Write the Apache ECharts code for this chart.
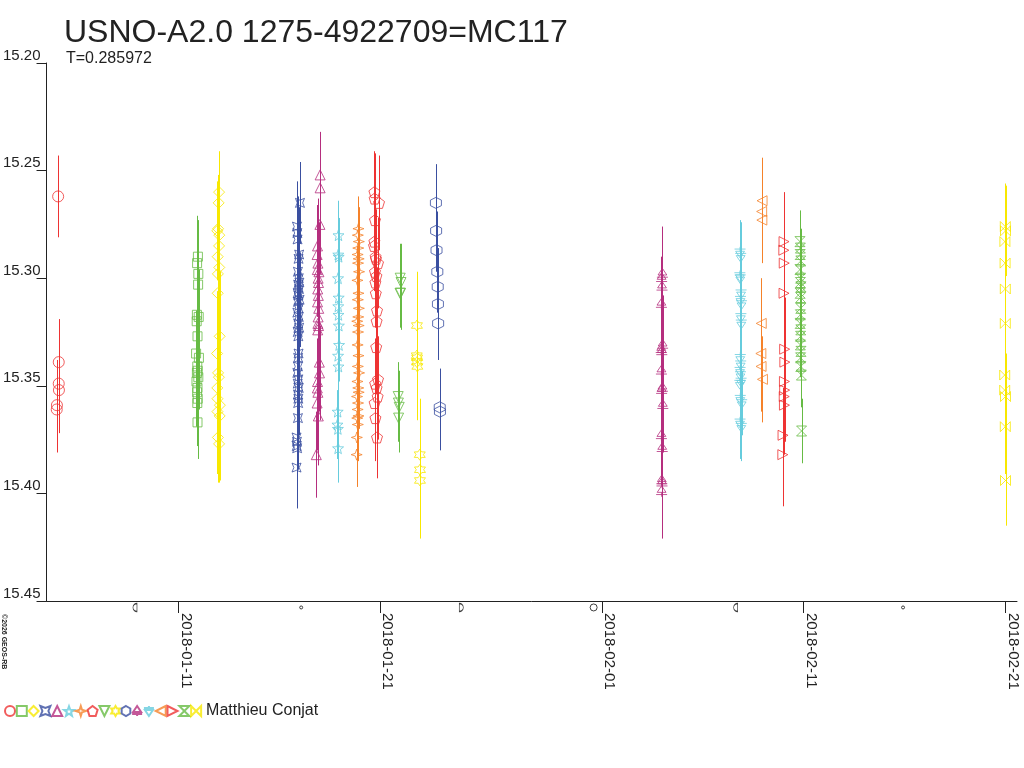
<!DOCTYPE html>
<html>
<head>
<meta charset="utf-8">
<script src="https://cdn.jsdelivr.net/npm/echarts@6/dist/echarts.min.js"></script>
<style>html,body{margin:0;padding:0;background:#fff}#c{width:1024px;height:768px}</style>
</head>
<body>
<div id="c"></div>
<script>
// ---- data: [day since 2018-01-01 00:00, magnitude, error] ----
const night01 = [[4.04,15.262,0.019],[4.07,15.339,0.020],[4.07,15.349,0.021],[4.08,15.352,0.020],[3.98,15.359,0.021],[3.97,15.361,0.020]];
const night02 = [[10.97,15.290,0.017],[10.93,15.293,0.022],[10.99,15.298,0.020],[10.98,15.303,0.024],[10.92,15.317,0.021],[10.91,15.320,0.025],[11.01,15.318,0.022],[10.95,15.327,0.023],[10.88,15.335,0.020],[11.02,15.337,0.024],[10.94,15.341,0.022],[10.96,15.343,0.021],[10.92,15.344,0.025],[10.99,15.346,0.022],[10.90,15.348,0.021],[10.95,15.351,0.023],[10.93,15.353,0.022],[10.96,15.356,0.024],[10.94,15.358,0.020],[10.95,15.367,0.017]];
const night03 = [[12.02,15.260,0.019],[12.00,15.265,0.022],[11.97,15.277,0.025],[11.93,15.278,0.023],[12.03,15.280,0.026],[12.02,15.285,0.024],[11.95,15.290,0.027],[12.03,15.295,0.025],[11.96,15.298,0.026],[11.95,15.307,0.028],[12.05,15.327,0.030],[11.92,15.335,0.029],[11.97,15.344,0.030],[12.01,15.346,0.028],[11.93,15.351,0.027],[11.94,15.356,0.030],[12.06,15.359,0.031],[11.94,15.362,0.029],[12.05,15.364,0.030],[11.96,15.374,0.021],[12.02,15.377,0.018]];
const night04 = [[16.03,15.265,0.019],[15.88,15.276,0.021],[15.90,15.279,0.022],[15.91,15.282,0.020],[15.99,15.289,0.022],[15.96,15.291,0.021],[15.93,15.297,0.023],[15.97,15.300,0.022],[16.00,15.302,0.021],[15.94,15.303,0.024],[15.98,15.305,0.022],[15.92,15.307,0.023],[15.95,15.308,0.021],[16.01,15.310,0.022],[15.93,15.311,0.024],[15.96,15.314,0.022],[15.90,15.316,0.023],[15.97,15.318,0.021],[15.94,15.321,0.022],[15.99,15.323,0.024],[15.92,15.325,0.022],[15.95,15.327,0.023],[15.96,15.335,0.022],[15.94,15.337,0.024],[15.93,15.341,0.023],[15.90,15.344,0.022],[15.95,15.347,0.024],[15.92,15.349,0.023],[15.97,15.351,0.022],[15.93,15.354,0.024],[15.95,15.356,0.023],[15.94,15.358,0.022],[15.93,15.365,0.024],[15.86,15.374,0.023],[15.88,15.376,0.022],[15.87,15.378,0.024],[15.89,15.379,0.023],[15.86,15.388,0.019]];
const night05 = [[17.03,15.252,0.020],[17.03,15.258,0.022],[17.02,15.275,0.023],[16.90,15.285,0.022],[16.88,15.289,0.023],[16.92,15.293,0.024],[16.89,15.296,0.022],[16.97,15.297,0.023],[16.93,15.300,0.024],[16.95,15.302,0.022],[16.91,15.305,0.023],[16.94,15.308,0.024],[16.90,15.311,0.022],[16.96,15.314,0.023],[16.93,15.318,0.024],[16.92,15.321,0.022],[16.95,15.322,0.023],[16.91,15.324,0.024],[16.99,15.339,0.023],[17.00,15.344,0.022],[16.90,15.348,0.024],[16.89,15.351,0.023],[16.92,15.353,0.024],[16.88,15.358,0.022],[16.94,15.364,0.023],[16.84,15.382,0.020]];
const night06 = [[17.94,15.280,0.016],[17.93,15.289,0.017],[17.95,15.290,0.018],[17.92,15.300,0.017],[17.95,15.309,0.018],[17.93,15.313,0.016],[17.94,15.317,0.017],[17.96,15.322,0.018],[17.97,15.331,0.017],[17.92,15.336,0.016],[17.94,15.341,0.018],[17.90,15.362,0.017],[17.89,15.368,0.016],[17.91,15.370,0.018],[17.92,15.379,0.016]];
const night07 = [[18.93,15.277,0.015],[18.90,15.280,0.017],[18.95,15.283,0.016],[18.92,15.286,0.018],[18.89,15.289,0.017],[18.94,15.291,0.016],[18.91,15.293,0.018],[18.96,15.297,0.017],[18.88,15.301,0.016],[18.93,15.307,0.018],[18.90,15.310,0.017],[18.95,15.314,0.016],[18.92,15.318,0.018],[18.87,15.320,0.017],[18.94,15.322,0.016],[18.91,15.325,0.018],[18.89,15.331,0.017],[18.93,15.336,0.016],[18.90,15.341,0.018],[18.96,15.344,0.017],[18.88,15.348,0.016],[18.92,15.351,0.018],[18.94,15.353,0.017],[18.86,15.355,0.016],[18.91,15.358,0.018],[18.89,15.361,0.017],[18.93,15.364,0.016],[18.87,15.365,0.018],[18.90,15.368,0.017],[18.85,15.374,0.016],[18.84,15.382,0.015]];
const night08 = [[19.72,15.260,0.019],[19.73,15.263,0.021],[19.95,15.265,0.022],[19.75,15.273,0.020],[19.72,15.283,0.020],[19.70,15.285,0.021],[19.78,15.290,0.022],[19.80,15.291,0.020],[19.90,15.293,0.021],[19.75,15.297,0.022],[19.82,15.299,0.020],[19.77,15.302,0.021],[19.79,15.307,0.022],[19.85,15.315,0.020],[19.83,15.320,0.021],[19.81,15.332,0.022],[19.90,15.347,0.020],[19.76,15.349,0.021],[19.83,15.351,0.022],[19.88,15.355,0.020],[19.73,15.358,0.021],[19.77,15.365,0.020],[19.85,15.374,0.019]];
const night09 = [[21.00,15.300,0.016],[21.04,15.302,0.018],[21.02,15.307,0.017],[20.99,15.307,0.016],[20.90,15.355,0.016],[20.91,15.358,0.018],[20.95,15.360,0.017],[20.92,15.365,0.016]];
const night10 = [[21.83,15.322,0.025],[21.82,15.336,0.027],[21.84,15.337,0.025],[21.83,15.339,0.026],[21.85,15.341,0.025],[21.97,15.382,0.026],[21.98,15.389,0.028],[21.98,15.394,0.027]];
const night11 = [[22.77,15.265,0.018],[22.78,15.278,0.019],[22.80,15.287,0.018],[22.84,15.297,0.019],[22.86,15.304,0.018],[22.87,15.312,0.019],[22.88,15.321,0.017],[22.96,15.360,0.018],[22.97,15.362,0.018]];
const night12 = [[34.00,15.298,0.022],[33.96,15.300,0.023],[33.98,15.304,0.021],[33.95,15.312,0.022],[34.01,15.331,0.023],[33.94,15.333,0.022],[33.97,15.334,0.021],[33.95,15.343,0.022],[34.00,15.351,0.023],[33.96,15.352,0.021],[34.02,15.359,0.022],[33.95,15.373,0.023],[33.99,15.379,0.022],[33.97,15.394,0.021],[33.98,15.395,0.022],[33.96,15.399,0.022]];
const night13 = [[37.85,15.288,0.015],[37.88,15.290,0.016],[37.84,15.299,0.017],[37.86,15.300,0.016],[37.90,15.307,0.015],[37.87,15.310,0.017],[37.92,15.312,0.016],[37.89,15.318,0.015],[37.91,15.321,0.017],[37.86,15.337,0.016],[37.88,15.340,0.015],[37.85,15.343,0.017],[37.87,15.345,0.016],[37.90,15.348,0.015],[37.84,15.349,0.017],[37.86,15.356,0.016],[37.93,15.358,0.015],[37.85,15.367,0.017],[37.91,15.369,0.016]];
const night14 = [[38.94,15.264,0.020],[38.92,15.269,0.021],[38.93,15.273,0.020],[38.90,15.321,0.021],[38.88,15.335,0.022],[38.89,15.341,0.021],[38.96,15.347,0.020]];
const night15 = [[40.03,15.283,0.023],[40.02,15.287,0.024],[40.04,15.293,0.022],[40.03,15.307,0.023],[40.06,15.333,0.024],[40.07,15.339,0.022],[40.05,15.348,0.023],[40.06,15.352,0.024],[40.04,15.355,0.022],[40.05,15.359,0.023],[39.98,15.373,0.022],[39.97,15.382,0.024]];
const night16 = [[40.82,15.283,0.0145],[40.84,15.286,0.015],[40.83,15.289,0.016],[40.86,15.292,0.015],[40.82,15.296,0.016],[40.85,15.300,0.015],[40.84,15.302,0.016],[40.87,15.304,0.015],[40.83,15.307,0.016],[40.85,15.309,0.015],[40.86,15.314,0.016],[40.84,15.317,0.015],[40.83,15.321,0.016],[40.86,15.324,0.015],[40.85,15.327,0.016],[40.84,15.331,0.015],[40.87,15.334,0.016],[40.85,15.337,0.015],[40.86,15.341,0.016],[40.89,15.345,0.015],[40.90,15.371,0.015]];
const night17 = [[51.00,15.276,0.020],[51.01,15.278,0.021],[50.98,15.283,0.022],[50.99,15.293,0.020],[51.00,15.305,0.021],[51.00,15.321,0.020],[50.97,15.345,0.022],[50.97,15.352,0.021],[51.01,15.355,0.020],[51.00,15.369,0.022],[51.01,15.394,0.021]];

const tickDays = [10, 20, 31, 41, 51];
const tickLabels = ['2018-01-11', '2018-01-21', '2018-02-01', '2018-02-11', '2018-02-21'];
const magTicks = [15.20, 15.25, 15.30, 15.35, 15.40, 15.45];
const moonDays = [7.85, 16.09, 24.03, 30.59, 37.63, 45.93];
const moonPhases = ['last', 'new', 'first', 'full', 'last', 'new'];
const observer = 'Matthieu Conjat';

// ---- styles ----
const RED = '#ee3333', GREEN = '#66bb44', YELLOW = '#f8e800', BLUE = '#3a4fa0',
      MAG = '#b52e7e', CYAN = '#66ccdd', ORANGE = '#f5822a';
const nights = [night01, night02, night03, night04, night05, night06, night07, night08, night09,
                night10, night11, night12, night13, night14, night15, night16, night17];
const colors = [RED, GREEN, YELLOW, BLUE, MAG, CYAN, ORANGE, RED, GREEN, YELLOW, BLUE, MAG, CYAN, ORANGE, RED, GREEN, YELLOW];
const symbols = [
  'circle',
  'rect',
  'diamond',
  'path://M0,0L5,2L10,0L8,5L10,10L5,8L0,10L2,5Z',
  'triangle',
  'path://M5,0L6.2,3.4L9.8,3.5L7,5.7L7.9,9.2L5,7.2L2.1,9.2L3,5.7L0.2,3.5L3.8,3.4Z',
  'path://M5,0L6.2,3.8L10,5L6.2,6.2L5,10L3.8,6.2L0,5L3.8,3.8Z',
  'path://M5,0L10,3.8L8.1,10L1.9,10L0,3.8Z',
  'path://M0,0L10,0L5,10Z',
  'path://M5,0L6.45,2.49L9.33,2.5L7.9,5L9.33,7.5L6.45,7.51L5,10L3.55,7.51L0.67,7.5L2.1,5L0.67,2.5L3.55,2.49Z',
  'path://M5,0L9.33,2.5L9.33,7.5L5,10L0.67,7.5L0.67,2.5Z',
  'path://M5,0L9,6L1,6Z M0,8L10,8 M5,6L5,10',
  'path://M0,2L10,2 M1,4L9,4L5,10Z M5,0L5,4',
  'path://M10,0L0,5L10,10Z',
  'path://M0,0L10,5L0,10Z',
  'path://M0,0L10,0L0,10L10,10Z',
  'path://M0,0L10,10L10,0L0,10Z'
];
const sizes = [11, 9, 11, 9, 10, 11, 11, 11, 10, 11, 11, 11, 11, 10, 10, 10, 10];
const moonSymbol = {
  last: 'path://M4,0A4,4 0 0,0 4,8L4,0Z',
  first: 'path://M0,0A4,4 0 0,1 0,8L0,0Z',
  full: 'circle',
  'new': 'circle'
};
const moonSize = {last: [4, 8], first: [4, 8], full: 7, 'new': 3};
const MOON_ROW = 15.453;
const FONT = 'Liberation Sans';
const INK = '#222';

const series = [];
nights.forEach((nd, i) => {
  const c = colors[i];
  series.push({
    name: 'err' + (i + 1),
    type: 'custom',
    data: nd,
    encode: {x: 0, y: 1},
    silent: true,
    z: 1,
    renderItem: (params, api) => {
      const t = api.value(0), m = api.value(1), e = api.value(2);
      const p1 = api.coord([t, m - e]);
      const p2 = api.coord([t, m + e]);
      const x = Math.round(p1[0]) + 0.5;
      return {
        type: 'line',
        shape: {x1: x, y1: p1[1], x2: x, y2: p2[1]},
        style: {stroke: c, lineWidth: 1}
      };
    }
  });
  series.push({
    name: 's' + (i + 1),
    type: 'scatter',
    data: nd.map(d => [d[0], d[1]]),
    symbol: symbols[i],
    symbolSize: sizes[i],
    itemStyle: {color: 'rgba(0,0,0,0)', borderColor: c, borderWidth: 1},
    emphasis: {disabled: true},
    z: 2
  });
});
series.push({
  name: 'moon',
  type: 'scatter',
  data: moonDays.map(d => [d, MOON_ROW]),
  clip: false,
  silent: true,
  symbol: (v, p) => moonSymbol[moonPhases[p.dataIndex]],
  symbolSize: (v, p) => moonSize[moonPhases[p.dataIndex]],
  itemStyle: {color: 'rgba(0,0,0,0)', borderColor: '#111', borderWidth: 1},
  emphasis: {disabled: true},
  z: 3
});

const chart = echarts.init(document.getElementById('c'), null, {renderer: 'canvas', width: 1024, height: 768});
chart.setOption({
  animation: false,
  backgroundColor: '#fff',
  title: [
    {text: 'USNO-A2.0 1275-4922709=MC117', left: 64, top: 17, padding: 0,
     textStyle: {fontFamily: FONT, fontSize: 32, fontWeight: 'normal', color: INK}},
    {text: 'T=0.285972', left: 66, top: 51, padding: 0,
     textStyle: {fontFamily: FONT, fontSize: 16, fontWeight: 'normal', color: INK}}
  ],
  legend: {
    data: nights.map((_, i) => 's' + (i + 1)),
    left: 4, top: 703, padding: 0,
    itemWidth: 10, itemHeight: 10, itemGap: -0.2,
    selectedMode: false,
    formatter: name => name === 's17' ? observer : '',
    textStyle: {fontFamily: FONT, fontSize: 16, color: INK}
  },
  grid: {left: 45, right: 7, top: 63, bottom: 167, containLabel: false},
  xAxis: {
    type: 'value',
    min: 3.465, max: 51.58,
    splitLine: {show: false},
    axisLine: {lineStyle: {color: INK, width: 1}},
    axisTick: {customValues: tickDays, length: 12, lineStyle: {color: INK}},
    axisLabel: {
      customValues: tickDays,
      rotate: -90,
      margin: 12,
      verticalAlign: 'bottom',
      fontFamily: FONT, fontSize: 15, color: INK,
      formatter: v => tickLabels[tickDays.indexOf(Math.round(v))] || ''
    }
  },
  yAxis: {
    type: 'value',
    inverse: true,
    min: 15.20, max: 15.45,
    splitLine: {show: false},
    axisLine: {show: true, lineStyle: {color: INK, width: 1}},
    axisTick: {show: true, customValues: magTicks, length: 10, lineStyle: {color: INK}},
    axisLabel: {
      customValues: magTicks,
      margin: 6,
      verticalAlign: 'bottom',
      fontFamily: FONT, fontSize: 15, color: INK,
      formatter: v => Number(v).toFixed(2)
    }
  },
  graphic: [
    {type: 'text', x: 0, y: 614, rotation: -Math.PI / 2, silent: true,
     style: {text: '©2026 GEOS-RB', fontFamily: FONT, fontSize: 7, fontWeight: 'bold', fill: INK,
             align: 'left', verticalAlign: 'bottom'}}
  ],
  series: series
});
</script>
</body>
</html>
